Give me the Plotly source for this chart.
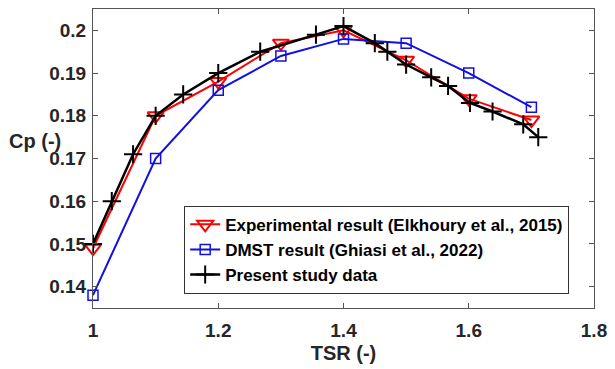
import plotly.graph_objects as go

# Data
exp_tsr = [1.0, 1.1, 1.2, 1.3, 1.4, 1.5, 1.6, 1.7]
exp_cp = [0.149, 0.180, 0.188, 0.197, 0.200, 0.193, 0.184, 0.179]

dmst_tsr = [1.0, 1.1, 1.2, 1.3, 1.4, 1.5, 1.6, 1.7]
dmst_cp = [0.138, 0.170, 0.186, 0.194, 0.198, 0.197, 0.190, 0.182]

pres_tsr = [1.0, 1.03, 1.064, 1.1, 1.144, 1.2, 1.267, 1.356, 1.4, 1.45, 1.47,
            1.5, 1.54, 1.567, 1.602, 1.638, 1.687, 1.711]
pres_cp = [0.150, 0.160, 0.171, 0.180, 0.185, 0.190, 0.195, 0.199, 0.201, 0.197,
           0.195, 0.192, 0.189, 0.187, 0.183, 0.181, 0.178, 0.175]

x_ticks = [1.0, 1.2, 1.4, 1.6, 1.8]
x_ticklabels = ["1", "1.2", "1.4", "1.6", "1.8"]
y_ticks = [0.14, 0.15, 0.16, 0.17, 0.18, 0.19, 0.20]
y_ticklabels = ["0.14", "0.15", "0.16", "0.17", "0.18", "0.19", "0.2"]

FONT = "Liberation Sans"

fig = go.Figure()
fig.add_trace(go.Scatter(
    x=exp_tsr, y=exp_cp, mode="lines+markers",
    name="Experimental result (Elkhoury et al., 2015)",
    line=dict(color="#ff0000", width=2),
    marker=dict(symbol="triangle-down-open", size=14, color="#ff0000",
                line=dict(width=2, color="#ff0000")),
    cliponaxis=False))
fig.add_trace(go.Scatter(
    x=dmst_tsr, y=dmst_cp, mode="lines+markers",
    name="DMST result (Ghiasi et al., 2022)",
    line=dict(color="#1010e0", width=2),
    marker=dict(symbol="square-open", size=10, color="#1010e0",
                line=dict(width=1.5, color="#1010e0")),
    cliponaxis=False))
fig.add_trace(go.Scatter(
    x=pres_tsr, y=pres_cp, mode="lines+markers",
    name="Present study data",
    line=dict(color="#000000", width=2.5),
    marker=dict(symbol="cross-thin-open", size=13, color="#000000",
                line=dict(width=2, color="#000000")),
    cliponaxis=False))

axis_common = dict(
    showline=True, linecolor="#555555", linewidth=1, mirror="ticks",
    ticks="inside", ticklen=5, tickcolor="#555555", showgrid=False,
    zeroline=False,
    tickfont=dict(family=FONT, size=19, color="#262626", weight="bold"),
)

fig.update_layout(
    width=615, height=369,
    margin=dict(l=93, r=16, t=8, b=59),
    plot_bgcolor="white", paper_bgcolor="white",
    xaxis=dict(range=[1.0, 1.8], tickvals=x_ticks, ticktext=x_ticklabels,
               ticklabelstandoff=5,
               title=dict(text="TSR (-)", standoff=6,
                          font=dict(family=FONT, size=20, color="#262626", weight="bold")),
               **axis_common),
    yaxis=dict(range=[0.135, 0.205], tickvals=y_ticks, ticktext=y_ticklabels,
               ticklabelstandoff=2,
               **axis_common),
    legend=dict(x=0.182, y=0.342, xanchor="left", yanchor="top",
                bgcolor="white", bordercolor="#333333", borderwidth=1,
                font=dict(family=FONT, size=17, color="#000000", weight="bold"),
                tracegroupgap=0, itemwidth=30),
    showlegend=True,
)
fig.add_annotation(text="Cp (-)", xref="paper", yref="paper",
                   x=-0.115, y=0.56, xanchor="center", yanchor="middle",
                   showarrow=False,
                   font=dict(family=FONT, size=20, color="#262626", weight="bold"))

fig.write_html("out.html")
